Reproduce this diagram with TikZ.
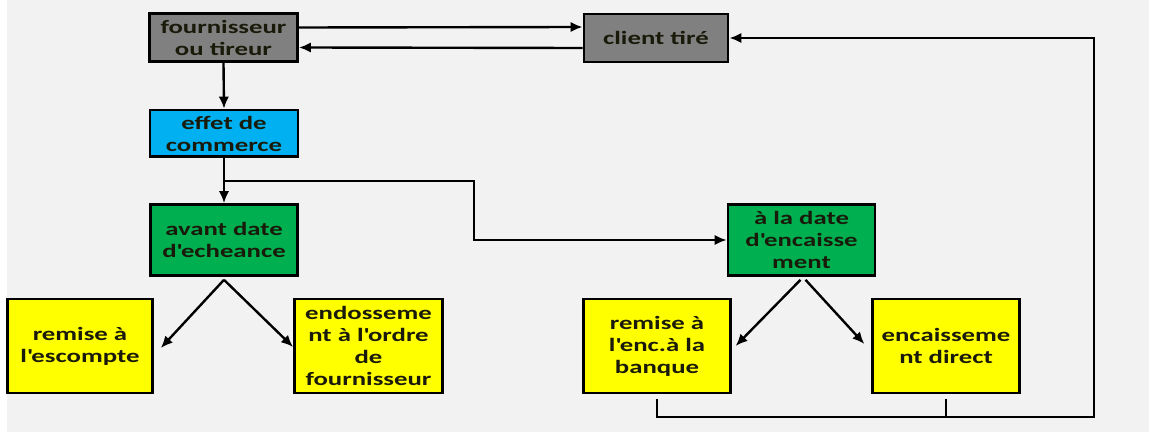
\documentclass[tikz,border=0pt]{standalone}
\usepackage{fontspec}
\setmainfont{Carlito}[FakeStretch=1.42]
\usetikzlibrary{arrows.meta,positioning,calc}
\definecolor{Paper}{HTML}{F2F2F2}
\definecolor{Stone}{HTML}{808080}
\definecolor{Sky}{HTML}{00B0F0}
\definecolor{Leaf}{HTML}{00B050}
\definecolor{Lemon}{HTML}{FFFF00}
\definecolor{Ink}{HTML}{1A1A0A}

\begin{document}
\begin{tikzpicture}[
  x=0.025cm,y=-0.025cm,
  box/.style={
    draw=black,
    line width=2pt,
    inner sep=1pt,
    align=center,
    text=Ink,
    font=\fontsize{13.4}{15.6}\selectfont\bfseries
  },
  graybox/.style={box,fill=Stone,minimum width=3.7cm,minimum height=1.2cm},
  bluebox/.style={box,fill=Sky,minimum width=3.7cm,minimum height=1.17cm},
  greenbox/.style={box,fill=Leaf,minimum width=3.67cm,minimum height=1.77cm},
  yellowbox/.style={box,fill=Lemon,minimum width=3.66cm,minimum height=2.35cm},
  arrow/.style={-{Latex[length=3mm,width=2.6mm]},line width=1.7pt,color=black},
  line/.style={line width=1.7pt,color=black}
]
\useasboundingbox (0,0) rectangle (1149,432);
\fill[Paper] (7,0) rectangle (1149,432);

\node[graybox] (fourn) at (223.5,37.5) {fournisseur\\ou tireur};
\node[graybox,minimum width=3.6cm] (client) at (656,38) {client tiré};
\node[bluebox] (effet) at (224,133.5) {effet de\\commerce};
\node[greenbox] (avant) at (224,240) {avant date\\d\textquotesingle echeance};
\node[greenbox] (datenc) at (801.5,240) {à la date\\d\textquotesingle encaisse\\ment};
\node[yellowbox,minimum width=3.62cm] (escompte) at (80,346) {remise à\\l\textquotesingle escompte};
\node[yellowbox,minimum width=3.7cm] (endos) at (368.5,346) {endosseme\\nt à l\textquotesingle ordre\\de\\fournisseur};
\node[yellowbox] (banque) at (657,346) {remise à\\l\textquotesingle enc.à la\\banque};
\node[yellowbox] (direct) at (946,346) {encaisseme\\nt direct};

\coordinate (split) at ($(effet.south)!0.5!(avant.north)$);
\coordinate (corner) at (1094,417);

\draw[arrow] ($(fourn.east)+(0,-10)$) -- ($(client.west)+(0,-11)$);
\draw[arrow] ($(client.west)+(0,10)$) -- ($(fourn.east)+(0,10)$);
\draw[arrow] (fourn.south) -- (effet.north);
\draw[arrow] (effet.south) -- (avant.north);
\draw[arrow] (split) -- ++(250,0) |- (datenc.west);
\draw[arrow] ($(avant.south)+(0,3)$) -- ($(escompte.east)+(7,2)$);
\draw[arrow] ($(avant.south)+(0,3)$) -- ($(endos.west)+(0,1)$);
\draw[arrow] ($(datenc.south)+(-1,3)$) -- ($(banque.east)+(4,0)$);
\draw[arrow] ($(datenc.south)+(4,3)$) -- ($(direct.west)+(-7,-2)$);
\draw[arrow] ($(banque.south)+(0,5)$) |- (corner) |- (client.east);
\draw[line] ($(direct.south)+(0,5)$) -- (direct.south |- corner);
\end{tikzpicture}
\end{document}
